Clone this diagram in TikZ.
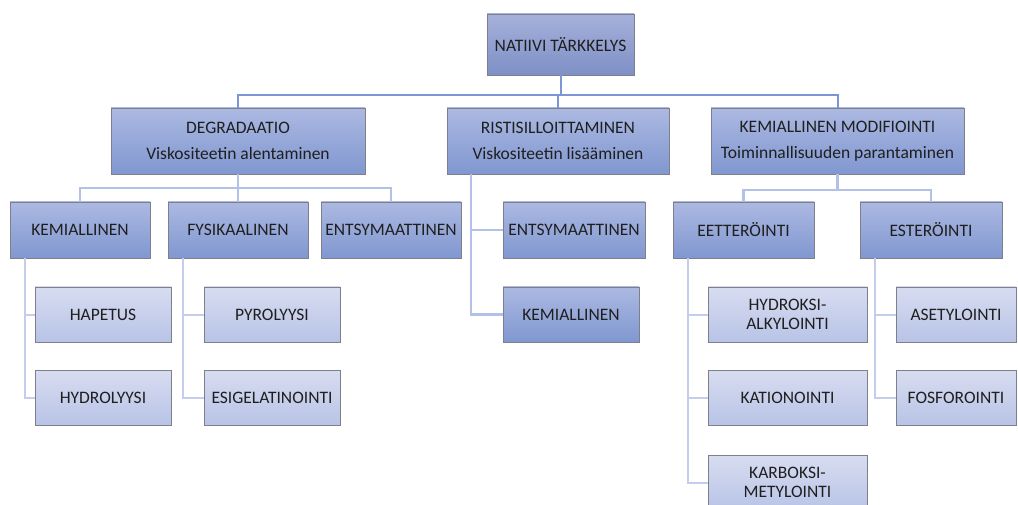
\documentclass[tikz,border=0pt]{standalone}
\usepackage{fontspec}
\setmainfont{Carlito}

\definecolor{ylaA}{RGB}{166,176,218}
\definecolor{alaA}{RGB}{126,144,198}
\definecolor{ylaB}{RGB}{172,185,226}
\definecolor{alaB}{RGB}{128,151,208}
\definecolor{ylaC}{RGB}{215,220,240}
\definecolor{alaC}{RGB}{184,195,230}
\definecolor{reuna}{RGB}{125,128,140}
\definecolor{viivaA}{RGB}{122,150,214}
\definecolor{viivaB}{RGB}{178,193,232}
\definecolor{viivaC}{RGB}{196,206,236}

\tikzset{
	laatikko/.style={draw=reuna, line width=0.8pt, align=center, inner sep=0pt,
		text=black!88, font=\fontsize{17.5}{19.5}\selectfont},
	tasoA/.style={laatikko, top color=ylaA, bottom color=alaA},
	tasoB/.style={laatikko, top color=ylaB, bottom color=alaB},
	tasoC/.style={laatikko, top color=ylaC, bottom color=alaC},
	yhdA/.style={draw=viivaA, line width=2pt},
	yhdB/.style={draw=viivaB, line width=2.2pt},
	yhdC/.style={draw=viivaC, line width=2pt}
}

\newcommand{\laatikko}[6]{
	\node[#1, minimum width=#4pt, minimum height=#5pt] (#2) at (#3) {#6};
}

\begin{document}
\begin{tikzpicture}[x=1pt, y=-1pt]
\useasboundingbox[fill=white] (0,0) rectangle (1018,505);

\pgfmathsetmacro{\rivA}{44.5}
\pgfmathsetmacro{\rivB}{141}
\pgfmathsetmacro{\rivC}{230}
\pgfmathsetmacro{\rivD}{314.5}
\pgfmathsetmacro{\rivE}{398}
\pgfmathsetmacro{\rivF}{482.5}

\laatikko{tasoA}{natiivi}{560.5,\rivA}{147}{61}{NATIIVI TÄRKKELYS}

\laatikko{tasoB}{degr}{238,\rivB}{254}{66}{DEGRADAATIO\\[7pt]Viskositeetin alentaminen}
\laatikko{tasoB}{risti}{558,\rivB}{222}{66}{RISTISILLOITTAMINEN\\[7pt]Viskositeetin lisääminen}
\laatikko{tasoB}{kemmod}{837.5,\rivB}{253}{66}{KEMIALLINEN MODIFIOINTI\\[7pt]Toiminnallisuuden parantaminen}

\laatikko{tasoB}{kemA}{80,\rivC}{140}{56}{KEMIALLINEN}
\laatikko{tasoB}{fys}{238,\rivC}{140}{56}{FYSIKAALINEN}
\laatikko{tasoB}{entsA}{391,\rivC}{140}{56}{ENTSYMAATTINEN}
\laatikko{tasoB}{entsB}{574,\rivC}{142}{56}{ENTSYMAATTINEN}
\laatikko{tasoB}{kemB}{571,\rivD}{136}{55}{KEMIALLINEN}
\laatikko{tasoB}{eett}{743.5,\rivC}{141}{56}{EETTERÖINTI}
\laatikko{tasoB}{ester}{931,\rivC}{142}{56}{ESTERÖINTI}

\laatikko{tasoC}{hapetus}{103,\rivD}{136}{55}{HAPETUS}
\laatikko{tasoC}{hydrol}{103,\rivE}{136}{55}{HYDROLYYSI}
\laatikko{tasoC}{pyrol}{272,\rivD}{136}{55}{PYROLYYSI}
\laatikko{tasoC}{esigel}{272,\rivE}{136}{55}{ESIGELATINOINTI}
\laatikko{tasoC}{hydroks}{787.5,\rivD}{159}{55}{HYDROKSI-\\ALKYLOINTI}
\laatikko{tasoC}{kation}{787.5,\rivE}{159}{55}{KATIONOINTI}
\laatikko{tasoC}{karboks}{787.5,\rivF}{159}{55}{KARBOKSI-\\METYLOINTI}
\laatikko{tasoC}{asetyl}{956,\rivD}{120}{55}{ASETYLOINTI}
\laatikko{tasoC}{fosfor}{956,\rivE}{120}{55}{FOSFOROINTI}

\draw[yhdA] (natiivi.south) -- ++(0,20) coordinate (jakoA) -| (degr.north);
\draw[yhdA] (jakoA) -| (risti.north);
\draw[yhdA] (jakoA) -| (kemmod.north);

\draw[yhdB] (degr.south) -- ++(0,14) coordinate (jakoB) -| (kemA.north);
\draw[yhdB] (jakoB) -| (fys.north);
\draw[yhdB] (jakoB) -| (entsA.north);

\draw[yhdB] ([xshift=24pt]risti.south west) |- (entsB.west);
\draw[yhdB] ([xshift=24pt]risti.south west) |- (kemB.west);

\draw[yhdB] (kemmod.south) -- ++(0,16) coordinate (jakoC) -| (eett.north);
\draw[yhdB] (jakoC) -| (ester.north);

\foreach \ylin/\ala in {kemA/hapetus, kemA/hydrol, fys/pyrol, fys/esigel,
	eett/hydroks, eett/kation, eett/karboks, ester/asetyl, ester/fosfor}
	\draw[yhdC] ([xshift=15pt]\ylin.south west) |- (\ala.west);
\end{tikzpicture}
\end{document}
